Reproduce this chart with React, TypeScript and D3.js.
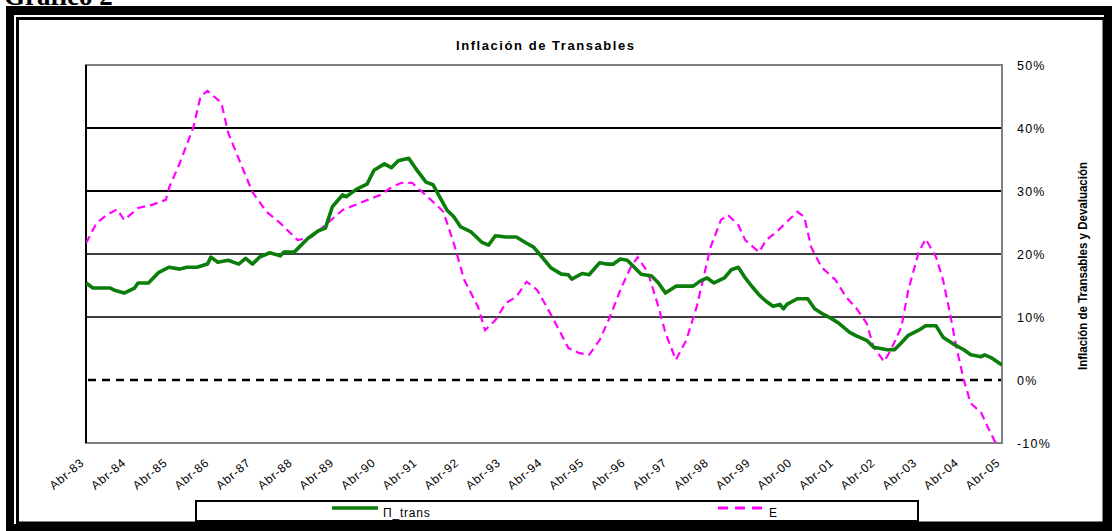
import React, { useEffect, useRef } from "react";
import * as d3 from "d3";

// months counted from Abr-83 (0) to Abr-05 (264)
const transMonths = [0, 2, 7, 8, 11, 14, 15, 18, 21, 24, 27, 29, 32, 35, 36, 38, 41, 44, 46, 48, 50, 53, 56, 57, 60, 64, 67, 69, 71, 74, 75, 78, 81, 83, 86, 88, 90, 93, 95, 98, 100, 104, 106, 108, 111, 114, 116, 118, 121, 124, 127, 129, 131, 134, 137, 139, 140, 143, 145, 148, 150, 152, 154, 156, 160, 163, 165, 167, 170, 175, 177, 179, 181, 184, 186, 188, 190, 192, 194, 196, 198, 200, 201, 202, 205, 208, 210, 212, 215, 217, 220, 222, 225, 227, 231, 233, 235, 237, 240, 242, 245, 247, 250, 253, 255, 258, 259, 261, 264];
const transValues = [15.4, 14.6, 14.6, 14.3, 13.8, 14.6, 15.4, 15.4, 17.1, 17.9, 17.6, 17.9, 17.9, 18.4, 19.5, 18.7, 19.0, 18.4, 19.3, 18.4, 19.5, 20.2, 19.7, 20.3, 20.3, 22.5, 23.7, 24.1, 27.5, 29.4, 29.1, 30.3, 31.1, 33.3, 34.3, 33.7, 34.8, 35.2, 33.6, 31.4, 31.0, 27.0, 25.9, 24.3, 23.5, 21.9, 21.4, 22.9, 22.7, 22.7, 21.7, 21.1, 19.8, 17.8, 16.8, 16.7, 16.0, 16.9, 16.7, 18.6, 18.4, 18.4, 19.2, 19.0, 16.8, 16.5, 15.4, 13.8, 14.9, 14.9, 15.7, 16.2, 15.4, 16.2, 17.5, 17.9, 16.2, 14.8, 13.5, 12.5, 11.7, 12.0, 11.3, 12.0, 12.9, 12.9, 11.3, 10.6, 9.7, 9.0, 7.6, 7.0, 6.3, 5.2, 4.8, 4.8, 5.9, 7.1, 7.9, 8.6, 8.6, 6.8, 5.7, 4.8, 4.0, 3.7, 4.0, 3.5, 2.4];

const eMonths = [0, 3, 6, 9, 11, 15, 19, 23, 24, 27, 31, 33, 35, 39, 41, 45, 48, 52, 56, 61, 65, 69, 74, 79, 85, 88, 91, 94, 97, 101, 103, 106, 109, 113, 115, 118, 121, 124, 127, 130, 133, 136, 139, 142, 145, 148, 151, 154, 157, 159, 162, 165, 167, 170, 173, 176, 178, 180, 183, 185, 188, 190, 194, 196, 199, 202, 205, 207, 209, 212, 216, 219, 222, 225, 227, 230, 232, 235, 237, 240, 242, 245, 247, 249, 251, 253, 255, 258, 260, 262, 264];
const eValues = [21.7, 24.9, 26.2, 27.1, 25.4, 27.3, 27.8, 28.6, 30.6, 34.4, 40.2, 45.0, 45.9, 44.0, 39.2, 33.8, 29.8, 26.7, 24.9, 22.2, 22.7, 24.6, 27.0, 28.1, 29.4, 30.6, 31.3, 31.3, 29.8, 27.8, 26.7, 21.7, 15.9, 11.6, 7.9, 9.5, 12.2, 13.2, 15.6, 14.3, 11.4, 8.3, 5.1, 4.3, 4.0, 6.3, 10.0, 14.3, 17.9, 19.5, 17.0, 11.6, 7.5, 3.2, 6.3, 11.6, 16.3, 21.1, 25.4, 26.2, 24.6, 22.2, 20.3, 22.2, 23.5, 25.1, 26.7, 25.9, 21.1, 17.9, 15.9, 13.2, 11.4, 9.0, 5.2, 2.9, 4.8, 8.4, 14.3, 20.3, 22.4, 19.5, 15.9, 10.6, 4.8, 0.0, -3.7, -5.2, -7.6, -9.8, -10.8];

const xLabels = ["Abr-83", "Abr-84", "Abr-85", "Abr-86", "Abr-87", "Abr-88", "Abr-89", "Abr-90", "Abr-91", "Abr-92", "Abr-93", "Abr-94", "Abr-95", "Abr-96", "Abr-97", "Abr-98", "Abr-99", "Abr-00", "Abr-01", "Abr-02", "Abr-03", "Abr-04", "Abr-05"];
const yTicks = [50, 40, 30, 20, 10, 0, -10];
const gridSolid = [40, 30, 20, 10];

const seriesNames = ["\u03A0_trans", "E"];

export default function App() {
  const ref = useRef<SVGSVGElement>(null);

  useEffect(() => {
    const width = 1112;
    const height = 531;
    const plot = { left: 86, right: 1002, top: 65, bottom: 443 };
    const font = "Arial, 'Liberation Sans', sans-serif";

    const svg = d3.select(ref.current);
    svg.selectAll("*").remove();
    svg.attr("width", width).attr("height", height);

    // page frame
    svg.append("rect").attr("x", 0).attr("y", 0).attr("width", width).attr("height", height).attr("fill", "white");
    svg.append("rect").attr("x", 6).attr("y", 6).attr("width", width).attr("height", height).attr("fill", "black");
    svg.append("rect").attr("x", 14).attr("y", 15).attr("width", 1104 - 14).attr("height", 524 - 15).attr("fill", "white");
    svg.append("rect")
      .attr("x", 17.5).attr("y", 18.5).attr("width", 1104 - 17.5).attr("height", 523 - 18.5)
      .attr("fill", "none").attr("stroke", "black").attr("stroke-width", 3);

    svg.append("text")
      .attr("x", 4).attr("y", 5)
      .style("font-family", "'Times New Roman', 'Liberation Serif', serif")
      .style("font-size", "27px").style("font-weight", "bold")
      .text("Gráfico 2");

    const x = d3.scaleLinear().domain([0, 264]).range([plot.left, plot.right]);
    const y = d3.scaleLinear().domain([-10, 50]).range([plot.bottom, plot.top]);

    // title
    svg.append("text")
      .attr("x", 545).attr("y", 50)
      .attr("text-anchor", "middle")
      .attr("textLength", 178).attr("lengthAdjust", "spacing")
      .style("font-family", font).style("font-size", "13px").style("font-weight", "bold")
      .text("Inflación de Transables");

    // gridlines
    svg.append("g").selectAll("line").data(gridSolid).enter().append("line")
      .attr("x1", plot.left).attr("x2", plot.right)
      .attr("y1", d => y(d)).attr("y2", d => y(d))
      .attr("stroke", "black").attr("stroke-width", d => (d >= 30 ? 2 : 1.5));

    svg.append("line")
      .attr("x1", plot.left + 2).attr("x2", plot.right)
      .attr("y1", y(0)).attr("y2", y(0))
      .attr("stroke", "black").attr("stroke-width", 2.5)
      .attr("stroke-dasharray", "8,6");

    // plot border
    svg.append("rect")
      .attr("x", plot.left).attr("y", plot.top)
      .attr("width", plot.right - plot.left).attr("height", plot.bottom - plot.top)
      .attr("fill", "none").attr("stroke", "#808080").attr("stroke-width", 2);
    svg.append("line")
      .attr("x1", plot.left).attr("x2", plot.left)
      .attr("y1", plot.top).attr("y2", plot.bottom)
      .attr("stroke", "black").attr("stroke-width", 2);

    // lines
    svg.append("clipPath").attr("id", "plotclip").append("rect")
      .attr("x", plot.left).attr("y", plot.top)
      .attr("width", plot.right - plot.left).attr("height", plot.bottom - plot.top);

    const line = d3.line<[number, number]>().x(d => x(d[0])).y(d => y(d[1]));
    const transData = transMonths.map((m, i) => [m, transValues[i]] as [number, number]);
    const eData = eMonths.map((m, i) => [m, eValues[i]] as [number, number]);

    const lines = svg.append("g").attr("clip-path", "url(#plotclip)");
    lines.append("path")
      .attr("d", line(eData))
      .attr("fill", "none").attr("stroke", "#ff00ff").attr("stroke-width", 2.2)
      .attr("stroke-dasharray", "8,5");
    lines.append("path")
      .attr("d", line(transData))
      .attr("fill", "none").attr("stroke", "#0a7d0a").attr("stroke-width", 3.6)
      .attr("stroke-linejoin", "round");

    // right axis labels
    svg.append("g").selectAll("text").data(yTicks).enter().append("text")
      .attr("x", 1017).attr("y", d => y(d) + 4.5)
      .style("font-family", font).style("font-size", "12.5px")
      .style("letter-spacing", "1.2px")
      .text(d => `${d}%`);

    svg.append("text")
      .attr("transform", "translate(1087, 266) rotate(-90)")
      .attr("text-anchor", "middle")
      .attr("textLength", 208).attr("lengthAdjust", "spacingAndGlyphs")
      .style("font-family", font).style("font-size", "13px").style("font-weight", "bold")
      .text("Inflación de Transables  y Devaluación");

    // x labels
    svg.append("g").selectAll("text").data(xLabels).enter().append("text")
      .attr("transform", (d, i) => `translate(${x(i * 12) - 1}, ${464}) rotate(-40)`)
      .attr("text-anchor", "end")
      .style("font-family", font).style("font-size", "12px")
      .style("letter-spacing", "0.8px")
      .text(d => d);

    // legend
    const legend = svg.append("g");
    legend.append("rect")
      .attr("x", 196).attr("y", 501).attr("width", 722).attr("height", 20)
      .attr("fill", "white").attr("stroke", "black").attr("stroke-width", 2);
    legend.append("line")
      .attr("x1", 332).attr("x2", 378).attr("y1", 508).attr("y2", 508)
      .attr("stroke", "#0a7d0a").attr("stroke-width", 3.6);
    legend.append("text")
      .attr("x", 383).attr("y", 517)
      .style("font-family", font).style("font-size", "12px").style("letter-spacing", "0.8px")
      .text(seriesNames[0]);
    legend.append("line")
      .attr("x1", 718).attr("x2", 764).attr("y1", 508).attr("y2", 508)
      .attr("stroke", "#ff00ff").attr("stroke-width", 3)
      .attr("stroke-dasharray", "10,7");
    legend.append("text")
      .attr("x", 769).attr("y", 517)
      .style("font-family", font).style("font-size", "12px")
      .text(seriesNames[1]);
  }, []);

  return (
    <svg ref={ref} style={{ position: "absolute", left: 0, top: 0, display: "block" }} />
  );
}
